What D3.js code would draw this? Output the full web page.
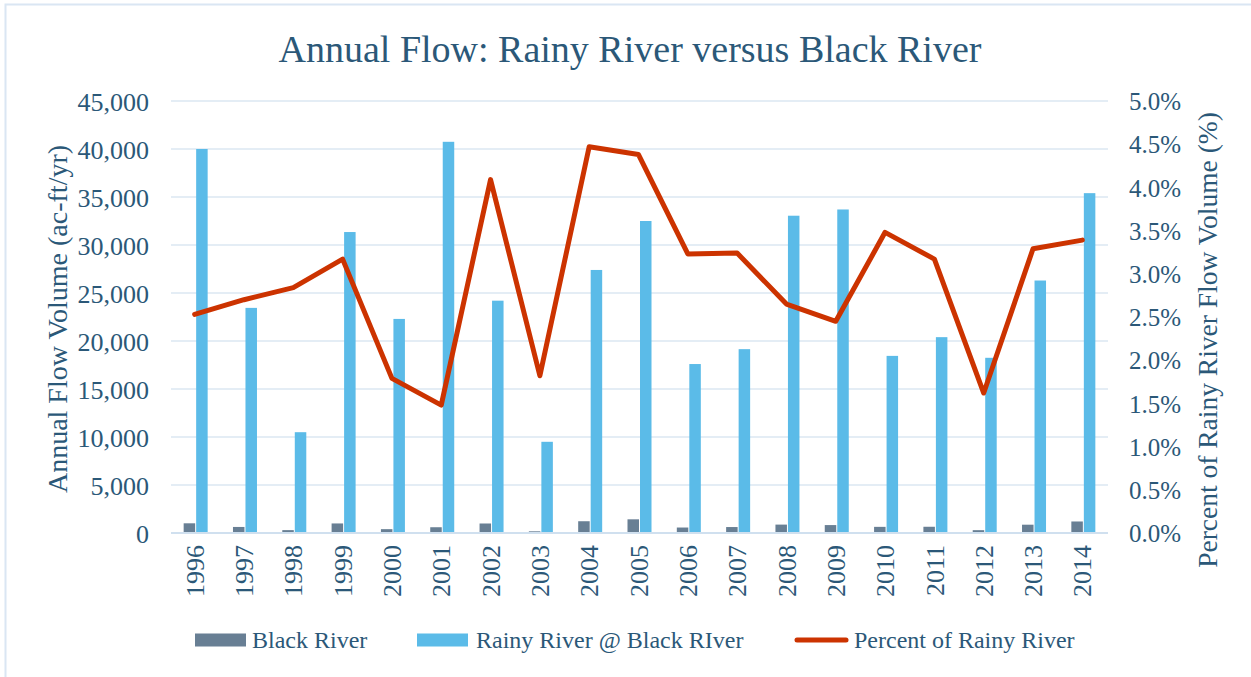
<!DOCTYPE html>
<html>
<head>
<meta charset="utf-8">
<script src="https://cdn.jsdelivr.net/npm/d3@7"></script>
<style>
  body { margin: 0; background: #fff; }
  text { font-family: "Liberation Serif", "DejaVu Serif", serif; fill: #2b5878; }
</style>
</head>
<body>
<div id="chart"></div>
<script>
// data
var years = ["1996","1997","1998","1999","2000","2001","2002","2003","2004","2005",
             "2006","2007","2008","2009","2010","2011","2012","2013","2014"];
var blackRiver = [1010, 630, 300, 995, 400, 600, 990, 175, 1225, 1425,
                  570, 620, 875, 825, 640, 650, 295, 865, 1200];
var rainyRiver = [40000, 23450, 10500, 31350, 22300, 40750, 24200, 9500, 27400, 32500,
                  17600, 19150, 33050, 33700, 18450, 20400, 18250, 26300, 35400];
var percentRainy = [2.53, 2.70, 2.84, 3.17, 1.79, 1.48, 4.09, 1.82, 4.47, 4.38,
                    3.23, 3.24, 2.65, 2.45, 3.48, 3.17, 1.62, 3.29, 3.39];
var leftTicks = [0, 5000, 10000, 15000, 20000, 25000, 30000, 35000, 40000, 45000];
var rightTicks = [0, 0.5, 1, 1.5, 2, 2.5, 3, 3.5, 4, 4.5, 5];

var W = 1251, H = 677;
var margin = {top: 101, left: 171, right: 1251 - 1108, bottom: 677 - 533};
var width = W - margin.left - margin.right,
    height = H - margin.top - margin.bottom;

var darkCol = "#687f94", lightCol = "#5bbbe8", lineCol = "#cc3300", gridCol = "#dbe7f2";

var svg = d3.select("#chart").append("svg")
    .attr("width", W).attr("height", H);

// outer chart border (only left and top visible)
svg.append("path")
    .attr("d", "M5.5," + H + "V4.5H" + W)
    .attr("fill", "none").attr("stroke", "#dae6f3").attr("stroke-width", 2);

svg.append("text")
    .attr("x", 630).attr("y", 62)
    .attr("text-anchor", "middle")
    .style("font-size", "38px")
    .text("Annual Flow: Rainy River versus Black River");

var g = svg.append("g").attr("transform", "translate(" + margin.left + "," + margin.top + ")");

var x = d3.scaleBand().domain(years).range([0, width]);
var y = d3.scaleLinear().domain([0, 45000]).range([height, 0]);
var y2 = d3.scaleLinear().domain([0, 5]).range([height, 0]);

// gridlines
g.append("g").selectAll("line").data(leftTicks.slice(1)).enter().append("line")
    .attr("x1", 0).attr("x2", width)
    .attr("y1", function(d) { return y(d); }).attr("y2", function(d) { return y(d); })
    .attr("stroke", gridCol).attr("stroke-width", 1.5);

// bars
var barW = 11.5;
g.append("g").selectAll("rect").data(blackRiver).enter().append("rect")
    .attr("x", function(d, i) { return x(years[i]) + x.bandwidth() / 2 - barW - 0.5; })
    .attr("width", barW)
    .attr("y", function(d) { return y(d); })
    .attr("height", function(d) { return height - y(d); })
    .attr("fill", darkCol);

g.append("g").selectAll("rect").data(rainyRiver).enter().append("rect")
    .attr("x", function(d, i) { return x(years[i]) + x.bandwidth() / 2 + 0.5; })
    .attr("width", barW)
    .attr("y", function(d) { return y(d); })
    .attr("height", function(d) { return height - y(d); })
    .attr("fill", lightCol);

// baseline
g.append("line").attr("x1", 0).attr("x2", width).attr("y1", height).attr("y2", height)
    .attr("stroke", "#d0e0ef").attr("stroke-width", 2);

// percent line
var line = d3.line()
    .x(function(d, i) { return x(years[i]) + x.bandwidth() / 2 - 1; })
    .y(function(d) { return y2(d); });
g.append("path").datum(percentRainy)
    .attr("d", line)
    .attr("fill", "none").attr("stroke", lineCol).attr("stroke-width", 5)
    .attr("stroke-linejoin", "round").attr("stroke-linecap", "round");

// axes
var fmt = d3.format(",");
var yAxis = d3.axisLeft(y).tickValues(leftTicks).tickFormat(function(d) { return fmt(d); }).tickSize(0).tickPadding(22);
var ya = g.append("g").call(yAxis);
ya.select(".domain").remove();
ya.selectAll("text").style("font-size", "26px").attr("dy", "0.35em");

var y2Axis = d3.axisRight(y2).tickValues(rightTicks).tickSize(0).tickPadding(21);
var yb = g.append("g").attr("transform", "translate(" + width + ",0)").call(y2Axis);
yb.select(".domain").remove();
yb.selectAll("text").text(function(d) { return d.toFixed(1) + "%"; })
    .style("font-size", "25px").attr("dy", "0.35em");

var xAxis = d3.axisBottom(x).tickSize(0).tickPadding(0);
var xa = g.append("g").attr("transform", "translate(0," + height + ")").call(xAxis);
xa.select(".domain").remove();
xa.selectAll("text")
    .style("font-size", "26px")
    .attr("text-anchor", "end")
    .attr("transform", "translate(-1,12) rotate(-90)")
    .attr("x", 0).attr("y", 0).attr("dy", "0.35em");

d3.selectAll(".tick text").attr("fill", "#2b5878");
d3.selectAll("g").attr("font-family", null);

// axis titles
svg.append("text")
    .attr("transform", "translate(57,319) rotate(-90)")
    .attr("text-anchor", "middle").attr("dy", "0.35em")
    .style("font-size", "28px")
    .text("Annual Flow Volume (ac-ft/yr)");

svg.append("text")
    .attr("transform", "translate(1207,340) rotate(-90)")
    .attr("text-anchor", "middle").attr("dy", "0.35em")
    .style("font-size", "27.5px")
    .text("Percent of Rainy River Flow Volume (%)");

// legend
var legendItems = [
  {name: "Black River", type: "rect", color: darkCol, x: 195, tx: 252},
  {name: "Rainy River @ Black RIver", type: "rect", color: lightCol, x: 417, tx: 476},
  {name: "Percent of Rainy River", type: "line", color: lineCol, x: 794, tx: 854}
];
var lg = svg.append("g").attr("transform", "translate(0,640)");
legendItems.forEach(function(it) {
  if (it.type === "rect") {
    lg.append("rect").attr("x", it.x).attr("y", -6.5).attr("width", 51).attr("height", 13).attr("fill", it.color);
  } else {
    lg.append("line").attr("x1", it.x + 3).attr("x2", it.x + 52).attr("y1", 0).attr("y2", 0)
      .attr("stroke", it.color).attr("stroke-width", 5).attr("stroke-linecap", "round");
  }
  lg.append("text").attr("x", it.tx).attr("y", 0).attr("dy", "0.35em")
    .style("font-size", "24px").text(it.name);
});
</script>
</body>
</html>
